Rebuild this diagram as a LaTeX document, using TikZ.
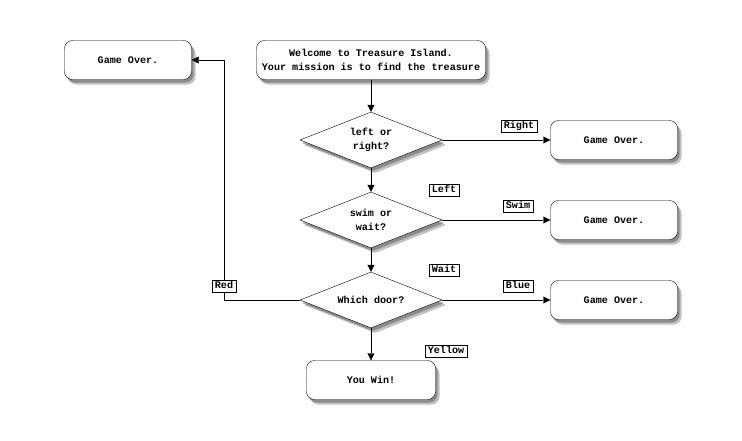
\documentclass[tikz,border=0pt]{standalone}
\usepackage{fontspec}
\setmonofont{Liberation Mono}
\usetikzlibrary{shapes.geometric,shadows,arrows.meta}

\begin{document}
\begin{tikzpicture}[x=1pt,y=-1pt,
  every node/.style={font=\ttfamily\bfseries\fontsize{10.1}{14}\selectfont},
  shade/.style={drop shadow={shadow xshift=4pt,shadow yshift=-5pt,fill=black!70,opacity=.35},
    drop shadow={shadow xshift=2pt,shadow yshift=-3pt,fill=black!70,opacity=.45}},
  box/.style={draw,fill=white,rounded corners=8pt,minimum width=127pt,minimum height=39pt,align=center,shade},
  decision/.style={draw,fill=white,diamond,aspect=2.54,minimum width=142pt,minimum height=56pt,inner sep=0pt,align=center,shade},
  lbl/.style={draw,fill=white,inner xsep=3pt,inner ysep=1.5pt,text height=7pt,text depth=2pt},
  arr/.style={-{Triangle[length=7pt,width=7pt]}}
]
  \useasboundingbox (0,0) rectangle (742,440);
  % nodes
  \node[box,minimum width=229pt] (start) at (371,60) {Welcome to Treasure Island.\\Your mission is to find the treasure};
  \node[box] (over0) at (128,60) {Game Over.};
  \node[decision] (q1) at (371,140) {left or\\right?};
  \node[box] (over1) at (614,140) {Game Over.};
  \node[decision] (q2) at (371,220) {swim or\\wait?};
  \node[box] (over2) at (614,220) {Game Over.};
  \node[decision] (q3) at (371,300) {Which door?};
  \node[box] (over3) at (614,300) {Game Over.};
  \node[box,minimum width=129pt] (win) at (371,380) {You Win!};
  \coordinate (redturn) at (224,60);
  % connectors
  \draw[arr] (start) -- (q1);
  \draw[arr] (q1) -- (over1);
  \draw[arr] (q1) -- (q2);
  \draw[arr] (q2) -- (over2);
  \draw[arr] (q2) -- (q3);
  \draw[arr] (q3) -- (over3);
  \draw[arr] (q3) -- (win);
  \draw[arr] (q3.west) -| (redturn) -- (over0.east);
  % labels
  \node[lbl] (lright) at (519,126) {Right};
  \node[lbl] (lleft) at (444,190) {Left};
  \node[lbl] (lswim) at (518,206) {Swim};
  \node[lbl] (lwait) at (444,270) {Wait};
  \node[lbl] (lblue) at (518,286) {Blue};
  \node[lbl] (lred) at (224,286) {Red};
  \node[lbl] (lyellow) at (446,351) {Yellow};
\end{tikzpicture}
\end{document}
